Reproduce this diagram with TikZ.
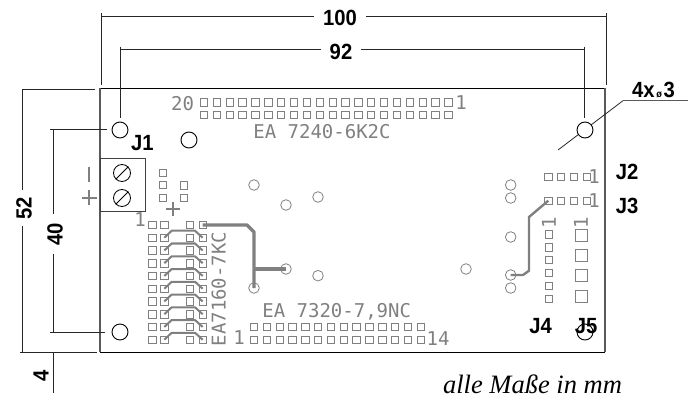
\documentclass[tikz,border=0pt]{standalone}
\usepackage{fontspec}
\setmainfont{Liberation Sans}
\newfontfamily\dimfont[FakeStretch=0.92]{Liberation Sans Bold}
\newfontfamily\pcbfont{DejaVu Sans Mono}
\newfontfamily\notefont{Liberation Serif}
\definecolor{pcbgray}{gray}{0.5}
\begin{document}
\begin{tikzpicture}[x=1pt, y=-1pt]
        \tikzstyle{dimline}=[line width=0.8pt, black!85]
        \tikzstyle{dimlabel}=[inner xsep=9pt, inner ysep=0pt, font=\fontsize{22}{24}\dimfont]
        \tikzstyle{jumper}=[inner sep=0pt, font=\fontsize{22}{24}\dimfont]
        \tikzstyle{pcbtext}=[inner sep=0pt, pcbgray, font=\fontsize{19}{21}\pcbfont]
        \tikzstyle{padbox}=[draw=pcbgray, line width=0.8pt, inner sep=0pt, minimum size=7.4pt]
        \tikzstyle{bigpad}=[draw=pcbgray, line width=0.8pt, inner sep=0pt, minimum size=12pt]
        \tikzstyle{via}=[circle, draw=pcbgray, line width=0.8pt, inner sep=0pt, minimum size=10.6pt]
        \tikzstyle{hole}=[circle, draw=black, fill=white, line width=0.9pt, inner sep=0pt, minimum size=16pt]
        \tikzstyle{screw}=[circle, draw=black, line width=0.8pt, inner sep=0pt, minimum size=17pt]
        \tikzstyle{trace}=[pcbgray, line width=2pt]
        \useasboundingbox (0,0) rectangle (688,398);

        % board
        \coordinate (tl) at (100,88.5);
        \coordinate (tr) at (605,88.5);
        \coordinate (br) at (605,352);
        \coordinate (bl) at (100,352);
        \draw [line width=0.9pt, black] (tl) -- (tr);
        \draw [line width=0.9pt, black] (bl) -- (br);
        \draw [line width=1.1pt, black!65] (tl) -- (bl);
        \draw [line width=1.1pt, black!65] (tr) -- (br);

        % pin rows
        \foreach \i in {0, ..., 19}
        {
          \path (204+\i*12.86, 102.3) node[padbox] (ta\i) {};
          \path (204+\i*12.86, 115) node[padbox] (tb\i) {};
        }
        \foreach \i in {0, ..., 13}
        {
          \path (254+\i*12.82, 326.7) node[padbox] (ba\i) {};
          \path (254+\i*12.82, 339.7) node[padbox] (bb\i) {};
        }
        \foreach \j in {0, ..., 9}
        {
          \path (152.3, 225+\j*12.75) node[padbox] (la\j) {};
          \path (164.3, 225+\j*12.75) node[padbox] (lb\j) {};
          \path (190, 225+\j*12.75) node[padbox] (lc\j) {};
          \path (202.7, 225+\j*12.75) node[padbox] (ld\j) {};
        }
        \foreach \j in {1, ..., 9}
        {
          \draw [trace] (lb\j.center) -- ++(7.4,-7) -- ++(23.3,0) -- (ld\j.center);
        }
        \foreach \i in {0, ..., 3}
        {
          \path (548.3+\i*12.8, 176.7) node[padbox] (jtwo\i) {};
          \path (548.3+\i*12.8, 200.7) node[padbox] (jthree\i) {};
          \path (581, 235+\i*20.3) node[bigpad] (jfive\i) {};
        }
        \foreach \i in {0, ..., 5}
        {
          \path (549, 234.3+\i*12.9) node[padbox] (jfour\i) {};
        }

        % small pads beside the terminal
        \path (163,172.7) node[padbox] (ca) {};
        \path (163,185) node[padbox] (cb) {};
        \path (184,185.5) node[padbox] (cc) {};
        \path (163,198) node[padbox] (cd) {};
        \path (184,198) node[padbox] (ce) {};

        % vias
        \path (254,185) node[via] (va) {};
        \path (318,197) node[via] (vb) {};
        \path (286,205) node[via] (vc) {};
        \path (286,269) node[via] (vd) {};
        \path (254,288) node[via] (ve) {};
        \path (318,275.7) node[via] (vf) {};
        \path (466,269) node[via] (vg) {};
        \path (510.7,185) node[via] (vh) {};
        \path (510.7,198) node[via] (vi) {};
        \path (510.7,237) node[via] (vj) {};
        \path (510.7,275) node[via] (vk) {};
        \path (510.7,288) node[via] (vl) {};

        % traces
        \coordinate (bend) at (254,269);
        \draw [trace, line width=3.4pt, line join=round] (ld0.center) -- (247,225) -- (254,232) -- (ve.center);
        \draw [trace, line width=3.4pt] (bend) -- (vd.center);
        \draw [trace, line width=2.4pt] (vk.center) -- (523,275) -- (529,270.7) -- (529,217) -- (jthree0.center);

        % terminal block
        \path (122.5,185) node[draw=black!75, line width=1pt, minimum width=45pt, minimum height=53pt, inner sep=0pt] (block) {};
        \path (122,173) node[screw] (sa) {};
        \path (122,198) node[screw] (sb) {};
        \draw [line width=0.8pt] (sa.225) -- (sa.45);
        \draw [line width=0.8pt] (sb.225) -- (sb.45);

        % polarity marks
        \coordinate (minusa) at (89,167);
        \coordinate (minusb) at (89,182);
        \draw [pcbgray, line width=2pt] (minusa) -- (minusb);
        \coordinate (plusa) at (81.5,198);
        \coordinate (plusb) at (97,198);
        \coordinate (plusc) at (89,190.5);
        \coordinate (plusd) at (89,205.5);
        \draw [pcbgray, line width=2pt] (plusa) -- (plusb) (plusc) -- (plusd);
        \coordinate (pluse) at (166,209);
        \coordinate (plusf) at (180,209);
        \coordinate (plusg) at (173,202);
        \coordinate (plush) at (173,216);
        \draw [pcbgray, line width=2pt] (pluse) -- (plusf) (plusg) -- (plush);

        % mounting holes
        \coordinate (leada) at (623,100.7);
        \coordinate (leadb) at (688,100.7);
        \coordinate (leadc) at (558,150);
        \draw [dimline] (leadc) -- (leada);
        \draw [line width=1.1pt, black!65] (leada) -- (leadb);
        \path (120,130) node[hole] (ha) {};
        \path (189,140) node[hole] (hb) {};
        \path (585,130) node[hole] (hc) {};
        \path (120,332) node[hole] (hd) {};
        \path (585,332) node[hole] (he) {};

        % board texts
        \path (322,132) node[pcbtext] (ta) {EA 7240-6K2C};
        \path (336.7,312) node[pcbtext] (tb) {EA 7320-7,9NC};
        \path (218.7,289) node[pcbtext, rotate=90] (tc) {EA7160-7KC};
        \path (182.5,104) node[pcbtext] (na) {20};
        \path (461,103) node[pcbtext] (nb) {1};
        \path (140,220) node[pcbtext] (nc) {1};
        \path (239,338) node[pcbtext] (nd) {1};
        \path (438,339) node[pcbtext] (ne) {14};
        \path (594,177) node[pcbtext] (nf) {1};
        \path (594,201) node[pcbtext] (ng) {1};
        \path (549,222.7) node[pcbtext, rotate=90] (nh) {1};
        \path (581,222.7) node[pcbtext, rotate=90] (ni) {1};

        % connector names
        \path (142.5,143.5) node[jumper] (jone) {J1};
        \path (627,171.7) node[jumper] (jtwo) {J2};
        \path (627,206) node[jumper] (jthree) {J3};
        \path (540.7,325.7) node[jumper] (jfour) {J4};
        \path (586,325.7) node[jumper] (jfive) {J5};
        \path (653.5,90) node[jumper] (holes) {4x{\fontsize{10}{10}\selectfont\,ø\,}3};
        \path (532.5,384.5) node[inner sep=0pt] (note) {\fontsize{26.5}{30}\notefont\itshape alle Maße in mm};

        % dimension 100
        \coordinate (wa) at (101.7,13);
        \coordinate (wb) at (101.7,85);
        \coordinate (wc) at (606,13);
        \coordinate (wd) at (606,85);
        \coordinate (we) at (101.7,16);
        \coordinate (wf) at (606,16);
        \path (340,18) node[dimlabel] (wlabel) {100};
        \draw [dimline] (wa) -- (wb) (wc) -- (wd);
        \draw [dimline] (we) -- (we -| wlabel.west) (wf -| wlabel.east) -- (wf);

        % dimension 92
        \coordinate (xa) at (120.3,46.6);
        \coordinate (xb) at (120.3,118);
        \coordinate (xc) at (584.5,46.6);
        \coordinate (xd) at (584.5,118);
        \coordinate (xe) at (120.3,49.5);
        \coordinate (xf) at (584.5,49.5);
        \path (341,52) node[dimlabel] (xlabel) {92};
        \draw [dimline] (xa) -- (xb) (xc) -- (xd);
        \draw [dimline] (xe) -- (xe -| xlabel.west) (xf -| xlabel.east) -- (xf);

        % dimension 52
        \coordinate (ya) at (22.7,89.3);
        \coordinate (yb) at (95,89.3);
        \coordinate (yc) at (20,352);
        \coordinate (yd) at (97,352);
        \coordinate (ye) at (22.7,352);
        \path (24,208) node[dimlabel, rotate=90, inner xsep=7pt] (ylabel) {52};
        \draw [dimline] (ya) -- (yb) (yc) -- (yd);
        \draw [dimline] (ya) -- (ya |- ylabel.east) (ye |- ylabel.west) -- (ye);

        % dimension 40
        \coordinate (za) at (50,129);
        \coordinate (zb) at (107,129);
        \coordinate (zc) at (50,332);
        \coordinate (zd) at (105,332);
        \coordinate (ze) at (53.7,129);
        \coordinate (zf) at (53.7,332);
        \path (55,234) node[dimlabel, rotate=90] (zlabel) {40};
        \draw [dimline] (za) -- (zb) (zc) -- (zd);
        \draw [dimline] (ze) -- (ze |- zlabel.east) (zf |- zlabel.west) -- (zf);

        % dimension 4
        \coordinate (fa) at (53.4,352);
        \coordinate (fb) at (53.4,393);
        \path (41,376) node[dimlabel, rotate=90] (flabel) {4};
        \draw [dimline] (fa) -- (fb);
      \end{tikzpicture}
\end{document}
